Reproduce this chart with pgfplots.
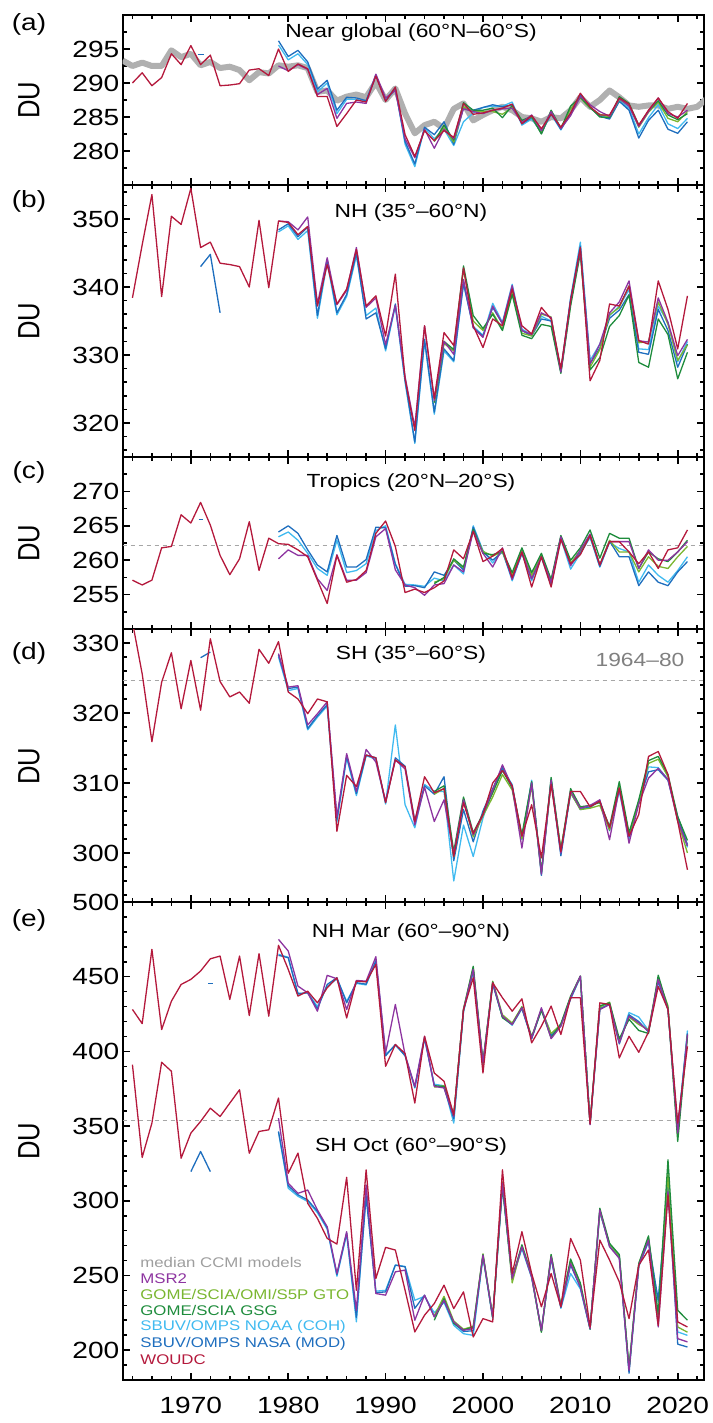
\documentclass[border=0pt]{standalone}
\usepackage{fontspec}
\setmainfont{Liberation Sans}[FakeStretch=1.2]
\newfontfamily\dufont{Liberation Sans}
\usepackage{graphicx}
\usepackage{pgfplots}
\usepackage{pgfplotstable}
\pgfplotsset{compat=1.18}

\definecolor{ccmi}{RGB}{176,176,176}
\definecolor{msr}{RGB}{141,52,160}
\definecolor{gto}{RGB}{122,182,48}
\definecolor{gsg}{RGB}{30,140,60}
\definecolor{noaa}{RGB}{64,186,240}
\definecolor{nasa}{RGB}{30,110,190}
\definecolor{woudc}{RGB}{180,25,60}

\newcommand\ticfont{\fontsize{11.7}{12}\selectfont}
\newcommand\titfont{\fontsize{9.5}{11}\selectfont}
\newcommand\legfont{\fontsize{7}{8}\selectfont}

\pgfplotsset{
  panel/.style={
    scale only axis, width=290.65pt, anchor=north west,
    xmin=1963, xmax=2022.7,
    xtick={1970,1980,...,2020}, minor xtick={1964,1966,...,2022},
    tick align=inside, tick pos=both,
    major tick length=3.7pt, minor tick length=2pt,
    tick style={black, line width=0.8pt},
    axis line style={line width=1pt},
    unbounded coords=jump,
    tick label style={font=\ticfont},
    yticklabel style={inner sep=1.5pt},
    /pgf/number format/assume math mode=true,
    /pgf/number format/1000 sep={},
  },
  ser/.style={line width=0.65pt, line join=round},
  ref/.style={gray!70, line width=0.4pt, dash pattern=on 2pt off 2pt},
}

% year, WOUDC, MSR2, GTO, GSG, NOAA (COH), NASA (MOD), CCMI median
\pgfplotstableread{
yr wo ms gto gsg noaa nasa cc
1963 nan nan nan nan nan nan 293.3
1964 290.0 nan nan nan nan nan 292.5
1965 291.5 nan nan nan nan nan 293.0
1966 289.6 nan nan nan nan nan 292.5
1967 290.8 nan nan nan nan nan 292.5
1968 294.3 nan nan nan nan nan 294.8
1969 292.7 nan nan nan nan nan 293.8
1970 295.5 nan nan nan nan nan 294.3
1971 292.7 nan nan nan nan nan 292.6
1972 294.1 nan nan nan nan nan 293.1
1973 289.6 nan nan nan nan nan 292.2
1974 289.7 nan nan nan nan nan 292.4
1975 289.9 nan nan nan nan nan 291.9
1976 291.9 nan nan nan nan nan 290.4
1977 292.1 nan nan nan nan nan 291.6
1978 291.1 nan nan nan nan nan 291.4
1979 295.0 292.5 nan nan 295.6 296.2 292.6
1980 291.7 291.8 nan nan 293.4 293.9 292.4
1981 292.8 292.7 nan nan 294.3 294.8 292.6
1982 292.1 292.0 nan nan 292.7 293.1 292.2
1983 288.0 288.3 nan nan 288.7 289.1 288.7
1984 288.0 289.2 nan nan 290.0 290.4 288.9
1985 283.6 284.8 nan nan 285.5 286.0 287.4
1986 285.5 287.0 nan nan 287.6 287.9 288.0
1987 287.5 287.2 nan nan 287.6 287.8 288.3
1988 287.2 287.0 nan nan 287.3 287.4 287.9
1989 291.0 291.3 nan nan 291.0 291.2 290.1
1990 287.3 287.8 nan nan 287.6 287.4 287.5
1991 289.4 288.9 nan nan 289.3 289.1 289.2
1992 282.4 281.8 nan nan 281.0 281.4 285.5
1993 279.2 279.0 nan nan 277.7 278.1 282.6
1994 283.0 283.2 nan nan 283.4 283.5 283.8
1995 281.5 280.4 281.6 281.4 281.8 282.4 284.3
1996 283.0 283.2 283.4 283.8 283.2 284.3 283.3
1997 282.0 281.8 281.3 281.6 280.8 281.0 286.2
1998 287.0 286.2 286.5 287.1 284.3 286.4 287.0
1999 285.4 285.8 285.8 286.0 285.6 286.0 284.5
2000 285.6 285.5 285.8 286.0 286.4 286.4 285.3
2001 286.0 286.0 285.8 286.3 286.6 286.8 286.0
2002 286.3 286.2 285.4 284.9 286.6 286.5 286.5
2003 286.9 286.3 286.4 286.7 287.2 286.8 286.0
2004 284.0 284.2 284.4 284.5 283.8 284.0 285.0
2005 285.2 285.3 285.0 285.1 284.7 284.9 284.8
2006 283.3 283.0 282.6 282.5 282.8 282.6 284.3
2007 285.4 285.8 285.9 286.0 285.4 285.5 285.0
2008 283.5 283.3 283.4 283.3 283.1 283.2 284.8
2009 285.6 285.2 286.2 286.6 285.6 285.5 286.0
2010 288.5 288.0 287.8 287.9 288.2 288.3 287.9
2011 286.5 286.8 286.3 286.4 286.3 286.4 286.5
2012 285.3 285.8 285.4 285.0 285.3 285.1 287.5
2013 285.3 285.1 285.0 284.9 284.8 284.7 288.9
2014 287.8 287.7 287.6 288.0 287.4 287.3 287.9
2015 286.9 286.6 286.7 287.0 286.3 286.0 286.7
2016 283.8 283.6 283.5 283.8 282.5 281.9 286.5
2017 286.0 285.8 285.7 285.9 284.9 284.5 286.7
2018 287.8 287.8 287.2 287.4 286.8 286.0 286.7
2019 285.8 285.5 284.8 285.3 284.0 283.2 286.2
2020 284.8 285.0 284.3 284.6 283.3 282.6 286.5
2021 287.0 286.0 285.8 285.5 284.8 284.3 286.2
2022 nan nan nan nan nan nan 286.5
2023 nan nan nan nan nan nan 287.7
}\tA

\pgfplotstableread{
yr wo ms gto gsg noaa nasa
1964 338.4 nan nan nan nan nan
1965 346.2 nan nan nan nan nan
1966 353.6 nan nan nan nan nan
1967 338.6 nan nan nan nan nan
1968 350.4 nan nan nan nan nan
1969 349.2 nan nan nan nan nan
1970 354.5 nan nan nan nan nan
1971 345.8 nan nan nan nan 343.0
1972 346.6 nan nan nan nan 344.8
1973 343.5 nan nan nan nan 336.2
1974 343.3 nan nan nan nan nan
1975 343.0 nan nan nan nan nan
1976 340.0 nan nan nan nan nan
1977 349.8 nan nan nan nan nan
1978 339.9 nan nan nan nan nan
1979 349.7 349.7 nan nan 348.1 348.4
1980 349.5 349.6 nan nan 349.0 349.3
1981 347.7 348.4 nan nan 347.0 347.4
1982 348.9 350.3 nan nan 348.3 348.8
1983 337.2 337.5 nan nan 335.4 335.8
1984 343.3 344.3 nan nan 343.6 344.1
1985 337.5 337.4 nan nan 335.9 336.2
1986 339.7 339.5 nan nan 338.6 338.9
1987 345.5 345.8 nan nan 344.6 345.0
1988 337.2 337.0 nan nan 335.8 335.3
1989 338.7 338.4 nan nan 336.9 336.2
1990 332.8 331.5 nan nan 330.6 330.9
1991 341.9 337.3 nan nan 337.2 337.5
1992 326.5 326.8 nan nan 326.0 326.3
1993 318.9 319.4 nan nan 317.0 317.2
1994 334.3 334.3 nan nan 332.0 332.3
1995 323.6 323.3 323.0 323.0 321.3 321.6
1996 333.3 332.0 331.7 332.0 330.6 330.9
1997 331.4 330.1 330.6 330.8 329.0 329.2
1998 342.8 341.1 342.6 343.1 340.4 340.6
1999 334.3 334.0 335.0 335.8 334.2 334.0
2000 331.1 332.6 333.6 333.9 332.9 332.8
2001 335.3 337.2 336.2 336.0 337.6 337.0
2002 334.3 334.6 333.8 333.6 334.8 334.6
2003 339.7 340.2 339.2 338.9 340.4 339.9
2004 334.3 333.6 333.2 332.9 333.8 333.6
2005 333.1 333.0 332.8 332.4 333.0 332.8
2006 337.0 336.2 336.0 334.5 335.7 335.3
2007 335.3 335.5 335.6 334.2 335.0 335.0
2008 328.0 327.5 327.6 327.3 327.7 327.5
2009 338.0 338.0 337.6 337.2 338.4 338.2
2010 345.8 345.5 345.2 345.0 346.6 346.0
2011 326.2 328.7 328.2 327.8 329.2 328.7
2012 329.2 331.6 330.8 329.6 331.6 331.0
2013 337.5 336.2 335.9 334.2 335.8 335.4
2014 337.2 337.8 337.0 335.8 337.2 336.6
2015 340.1 340.9 340.2 338.8 339.6 338.9
2016 332.1 332.1 331.8 328.9 330.9 330.4
2017 331.6 331.9 332.0 328.2 330.8 330.1
2018 340.9 338.4 337.8 335.3 337.2 336.7
2019 336.7 334.8 334.5 333.0 334.8 333.6
2020 330.9 329.9 329.2 326.5 329.0 328.2
2021 338.7 332.3 331.5 330.4 332.0 331.6
}\tB

\pgfplotstableread{
yr wo ms gto gsg noaa nasa
1964 257.1 nan nan nan nan nan
1965 256.4 nan nan nan nan nan
1966 257.1 nan nan nan nan nan
1967 261.8 nan nan nan nan nan
1968 262.0 nan nan nan nan nan
1969 266.6 nan nan nan nan nan
1970 265.4 nan nan nan nan nan
1971 268.4 nan nan nan nan nan
1972 265.1 nan nan nan nan nan
1973 260.7 nan nan nan nan nan
1974 257.9 nan nan nan nan nan
1975 260.2 nan nan nan nan nan
1976 265.6 nan nan nan nan nan
1977 258.5 nan nan nan nan nan
1978 263.2 nan nan nan nan nan
1979 262.4 260.2 nan nan 263.4 264.1
1980 262.3 261.5 nan nan 264.1 265.0
1981 261.5 260.7 nan nan 262.9 263.9
1982 260.5 260.7 nan nan 261.0 261.5
1983 257.1 257.3 nan nan 258.8 259.3
1984 253.7 255.6 nan nan 257.8 258.3
1985 260.7 260.8 nan nan 262.9 263.6
1986 256.8 257.1 nan nan 258.2 259.0
1987 257.2 257.1 nan nan 258.5 259.0
1988 258.5 258.2 nan nan 259.5 260.1
1989 263.9 263.4 nan nan 264.3 264.8
1990 265.7 264.6 nan nan 265.0 264.7
1991 262.0 258.6 nan nan 259.5 259.4
1992 255.3 256.4 nan nan 256.5 256.2
1993 255.8 256.0 nan nan 256.4 256.3
1994 255.3 254.9 nan nan 256.2 256.0
1995 256.0 256.4 256.8 256.6 257.4 258.3
1996 257.0 256.6 257.3 257.5 257.0 257.8
1997 261.5 259.3 260.0 260.2 259.3 260.0
1998 260.2 258.3 258.9 259.0 258.0 258.6
1999 264.2 264.2 264.3 264.5 265.0 264.8
2000 259.8 261.0 261.3 261.0 261.4 261.2
2001 260.6 259.0 260.6 260.8 259.6 260.0
2002 261.7 261.8 261.2 261.3 261.4 261.2
2003 257.5 257.2 257.8 258.2 257.0 257.3
2004 261.2 261.2 261.6 261.8 261.0 261.0
2005 256.1 257.3 257.8 258.2 257.0 257.3
2006 260.5 260.5 260.8 261.0 260.4 260.6
2007 256.1 256.8 257.0 257.2 256.3 256.7
2008 263.0 263.4 263.3 263.6 263.1 263.4
2009 259.5 259.2 259.6 260.0 258.7 259.3
2010 260.8 261.5 261.4 261.8 261.0 261.1
2011 263.6 263.8 263.6 264.4 263.3 263.5
2012 259.3 259.3 259.4 260.3 259.0 259.1
2013 262.7 262.7 262.9 263.9 262.6 262.8
2014 262.7 262.7 261.2 263.2 261.7 260.5
2015 261.2 262.7 261.2 263.2 261.2 260.5
2016 259.5 258.8 258.3 258.8 256.8 256.3
2017 261.2 261.5 260.5 261.2 259.3 258.3
2018 258.8 260.0 259.1 260.2 257.8 256.8
2019 261.5 260.0 258.8 259.8 256.8 256.3
2020 261.8 261.2 260.5 261.2 258.5 258.3
2021 264.4 262.7 262.0 262.9 260.5 259.8
}\tC

\pgfplotstableread{
yr wo ms gto gsg noaa nasa
1964 333.0 nan nan nan nan nan
1965 325.6 nan nan nan nan nan
1966 315.9 nan nan nan nan nan
1967 324.4 nan nan nan nan nan
1968 328.6 nan nan nan nan nan
1969 320.6 nan nan nan nan nan
1970 327.5 nan nan nan nan nan
1971 320.4 nan nan nan nan 327.9
1972 330.6 nan nan nan nan 328.7
1973 324.5 nan nan nan nan nan
1974 322.3 nan nan nan nan nan
1975 323.0 nan nan nan nan nan
1976 321.4 nan nan nan nan nan
1977 329.1 nan nan nan nan nan
1978 327.1 nan nan nan nan nan
1979 330.2 328.5 nan nan 328.0 328.3
1980 323.0 323.7 nan nan 323.2 323.5
1981 322.0 323.9 nan nan 323.5 323.7
1982 319.9 318.3 nan nan 317.6 317.8
1983 322.0 319.9 nan nan 319.4 319.6
1984 321.6 321.6 nan nan 321.0 321.2
1985 303.1 305.2 nan nan 304.4 304.8
1986 311.1 314.2 nan nan 313.6 313.8
1987 309.5 308.8 nan nan 308.2 308.5
1988 314.0 314.8 nan nan 313.9 314.0
1989 313.6 313.0 nan nan 313.4 313.6
1990 307.2 307.4 nan nan 307.0 307.2
1991 313.3 313.3 nan nan 318.3 313.6
1992 312.3 312.0 nan nan 306.9 312.4
1993 304.5 304.0 nan nan 303.6 304.6
1994 310.9 309.4 nan nan 309.8 309.6
1995 308.6 304.5 308.4 308.8 308.8 308.4
1996 309.2 307.6 309.2 309.6 308.8 310.9
1997 299.5 299.8 299.5 300.2 296.0 298.9
1998 307.2 307.6 307.6 308.0 304.0 306.2
1999 302.8 302.6 302.3 302.9 299.5 301.6
2000 305.5 305.5 305.3 305.6 305.0 306.0
2001 310.0 309.0 308.0 308.6 309.0 309.2
2002 311.8 312.6 311.2 311.8 311.9 312.2
2003 309.6 309.4 309.0 309.3 309.8 309.6
2004 302.4 300.7 302.0 302.6 301.9 302.2
2005 306.9 310.0 309.6 310.2 310.4 310.1
2006 299.3 297.0 297.2 297.3 297.0 296.8
2007 309.8 310.4 310.2 310.8 310.6 310.3
2008 300.2 300.0 300.6 300.4 300.0 299.6
2009 308.8 308.8 308.6 309.2 308.5 308.7
2010 308.8 306.4 306.2 306.6 306.4 306.2
2011 306.6 306.8 306.4 306.8 306.5 306.6
2012 307.4 307.6 306.8 307.2 307.5 307.4
2013 303.6 301.9 303.3 303.8 303.5 303.2
2014 309.3 309.2 309.5 310.2 308.8 309.6
2015 302.4 301.4 302.6 302.9 302.0 302.3
2016 305.5 307.0 307.2 307.6 307.4 307.3
2017 313.8 310.7 312.8 313.2 312.3 311.6
2018 314.5 312.1 313.4 313.8 312.2 311.9
2019 311.2 310.5 310.9 311.2 310.5 310.4
2020 304.5 304.6 304.6 305.2 305.0 305.2
2021 297.6 301.0 300.0 301.8 300.8 301.2
}\tD

\pgfplotstableread{
yr wo ms gto gsg noaa nasa
1964 428.1 nan nan nan nan nan
1965 418.6 nan nan nan nan nan
1966 468.3 nan nan nan nan nan
1967 414.6 nan nan nan nan nan
1968 433.6 nan nan nan nan nan
1969 444.8 nan nan nan nan nan
1970 448.2 nan nan nan nan nan
1971 453.8 nan nan nan nan nan
1972 462.0 nan nan nan nan nan
1973 463.8 nan nan nan nan nan
1974 434.8 nan nan nan nan nan
1975 463.8 nan nan nan nan nan
1976 424.0 nan nan nan nan nan
1977 465.4 nan nan nan nan nan
1978 423.6 nan nan nan nan nan
1979 471.0 475.0 nan nan 465.0 464.3
1980 454.9 467.2 nan nan 463.0 462.7
1981 437.0 443.7 nan nan 438.0 438.8
1982 440.3 439.2 nan nan 439.5 439.2
1983 432.5 426.9 nan nan 430.0 428.5
1984 442.6 450.9 nan nan 443.5 444.8
1985 449.3 448.6 nan nan 448.5 449.3
1986 422.4 428.0 nan nan 433.5 432.5
1987 447.1 447.5 nan nan 445.5 446.0
1988 446.5 447.0 nan nan 444.5 445.0
1989 458.2 463.4 nan nan 461.0 460.5
1990 390.0 399.0 nan nan 398.0 397.0
1991 404.6 431.4 nan nan 404.0 404.6
1992 398.6 397.8 nan nan 397.5 397.0
1993 365.4 376.6 nan nan 375.5 376.0
1994 410.1 410.1 nan nan 408.5 409.0
1995 385.5 376.6 376.0 377.0 378.0 377.0
1996 380.0 375.5 377.0 376.5 377.0 376.0
1997 357.5 356.5 357.5 357.0 352.0 355.0
1998 428.0 428.0 428.5 428.0 426.5 427.0
1999 449.3 454.9 456.0 457.0 453.5 454.0
2000 385.5 392.2 392.0 392.5 391.0 391.5
2001 445.9 445.9 447.0 446.5 445.0 445.5
2002 435.9 423.6 424.5 422.5 423.0 423.0
2003 426.9 418.0 419.0 418.0 417.5 418.5
2004 435.2 429.2 430.0 429.5 428.5 429.0
2005 405.7 409.0 410.0 409.5 408.5 408.5
2006 416.9 429.2 428.0 427.5 428.5 428.0
2007 430.3 408.5 412.0 409.0 411.5 410.5
2008 411.3 416.9 418.0 418.5 417.5 417.0
2009 435.9 435.9 436.5 437.0 435.0 435.5
2010 435.9 450.4 450.0 450.5 449.5 450.0
2011 351.5 350.9 352.0 351.5 352.5 351.5
2012 432.5 428.0 429.5 430.5 428.5 428.5
2013 431.4 431.4 433.0 432.5 432.0 431.5
2014 395.6 405.7 406.5 408.5 406.0 405.0
2015 410.1 423.6 423.0 421.5 426.0 424.5
2016 399.4 419.1 418.0 414.0 423.0 420.0
2017 413.0 413.5 414.5 412.0 414.0 413.0
2018 443.5 448.2 449.0 451.0 446.5 447.0
2019 428.0 428.0 430.5 429.0 428.5 428.5
2020 352.0 345.3 343.0 339.7 347.0 348.0
2021 403.4 411.3 411.0 410.0 414.0 412.0
}\tEN

\pgfplotstableread{
yr wo ms gto gsg noaa nasa
1964 391.1 nan nan nan nan nan
1965 329.0 nan nan nan nan nan
1966 352.0 nan nan nan nan nan
1967 392.7 nan nan nan nan nan
1968 386.7 nan nan nan nan nan
1969 328.5 nan nan nan nan nan
1970 345.3 nan nan nan nan 319.5
1971 353.1 nan nan nan nan 333.0
1972 362.0 nan nan nan nan 319.5
1973 356.4 nan nan nan nan nan
1974 365.4 nan nan nan nan nan
1975 374.3 nan nan nan nan nan
1976 331.8 nan nan nan nan nan
1977 346.4 nan nan nan nan nan
1978 347.5 nan nan nan nan nan
1979 368.8 355.3 nan nan 346.0 346.4
1980 318.4 311.7 nan nan 308.4 310.0
1981 331.9 305.0 nan nan 303.0 304.0
1982 298.3 307.2 nan nan 299.5 300.5
1983 288.2 293.8 nan nan 292.0 293.0
1984 274.8 282.6 nan nan 281.0 282.0
1985 271.0 251.3 nan nan 249.5 250.5
1986 315.7 279.3 nan nan 277.5 278.5
1987 240.1 226.7 nan nan 218.9 222.0
1988 320.7 310.6 nan nan 305.0 302.8
1989 248.0 237.9 nan nan 239.5 238.5
1990 268.8 236.8 nan nan 240.0 239.0
1991 267.0 252.4 nan nan 257.0 256.9
1992 240.1 253.6 nan nan 256.0 255.8
1993 212.2 220.0 nan nan 233.4 228.0
1994 223.4 236.8 nan nan 236.0 236.8
1995 231.2 222.2 223.0 220.0 225.0 222.5
1996 243.5 233.4 236.0 234.5 232.0 233.0
1997 227.8 218.9 219.5 218.0 216.6 218.0
1998 239.0 213.3 214.0 213.5 211.0 212.5
1999 208.8 214.4 216.0 215.5 209.9 213.0
2000 221.1 263.6 264.5 264.0 262.5 263.0
2001 218.9 222.2 222.5 222.0 221.0 222.0
2002 320.7 311.7 312.5 310.0 309.0 310.5
2003 251.3 248.0 245.0 248.5 247.0 248.0
2004 279.3 269.2 270.0 270.5 268.0 269.0
2005 251.3 249.1 249.5 250.5 248.5 249.0
2006 229.0 213.3 212.5 212.0 213.0 213.0
2007 251.3 262.5 263.5 264.0 261.5 262.0
2008 229.0 229.0 230.0 229.5 228.0 228.5
2009 274.8 258.0 260.0 261.0 251.3 257.0
2010 260.3 242.4 244.0 245.0 241.0 242.0
2011 215.5 214.4 215.0 214.0 214.0 214.5
2012 273.7 293.8 293.0 295.0 292.0 293.5
2013 260.3 269.2 271.0 271.5 271.0 269.5
2014 245.7 261.4 263.0 264.0 263.0 262.0
2015 221.1 186.4 188.0 187.5 187.0 184.5
2016 256.9 256.9 258.0 258.0 256.0 256.5
2017 267.0 273.7 275.0 276.5 272.5 273.0
2018 216.6 215.5 222.0 224.0 232.0 233.4
2019 303.9 306.0 318.0 327.4 310.0 311.0
2020 218.9 207.7 215.5 226.7 212.2 204.0
2021 215.5 205.5 212.0 220.0 209.9 202.1
}\tES

\newcommand\allseries[1]{%
  \addplot[ser, noaa] table[x=yr, y=noaa] {#1};
  \addplot[ser, nasa] table[x=yr, y=nasa] {#1};
  \addplot[ser, gto] table[x=yr, y=gto] {#1};
  \addplot[ser, gsg] table[x=yr, y=gsg] {#1};
  \addplot[ser, msr] table[x=yr, y=ms] {#1};
  \addplot[ser, woudc] table[x=yr, y=wo] {#1};
}

\begin{document}
\begin{tikzpicture}
\useasboundingbox (0,0) rectangle (356pt,-711.5pt);

% (a) near global
\begin{axis}[panel, at={(61.35pt,-7.5pt)}, height=85pt,
  ymin=275, ymax=300, ytick={280,285,290,295},
  minor ytick={277.5,282.5,...,297.5}, xticklabels={}]
  \addplot[ccmi, line width=3pt, line join=round] table[x=yr, y=cc] {\tA};
  \allseries{\tA}
  \addplot[ser, nasa] coordinates {(1970.7,294.2)(1971.3,294.2)};
\end{axis}

% (b) NH mid-latitudes
\begin{axis}[panel, at={(61.35pt,-92.5pt)}, height=136pt,
  ymin=315, ymax=355, ytick={320,330,340,350},
  minor ytick={316,318,...,354}, xticklabels={}]
  \allseries{\tB}
\end{axis}

% (c) tropics
\begin{axis}[panel, at={(61.35pt,-228.5pt)}, height=86pt,
  ymin=250, ymax=275, ytick={255,260,265,270},
  minor ytick={252.5,257.5,...,272.5}, xticklabels={}]
  \addplot[ref] coordinates {(1963,262.1)(2023,262.1)};
  \allseries{\tC}
  \addplot[ser, nasa] coordinates {(1970.8,265.9)(1971.2,265.9)};
\end{axis}

% (d) SH mid-latitudes
\begin{axis}[panel, at={(61.35pt,-314.5pt)}, height=136.5pt,
  ymin=293, ymax=332, ytick={300,310,320,330},
  minor ytick={294,296,...,332}, xticklabels={}]
  \addplot[ref] coordinates {(1963,324.7)(2023,324.7)};
  \allseries{\tD}
\end{axis}

% (e) polar
\begin{axis}[panel, at={(61.35pt,-451pt)}, height=239pt,
  ymin=180, ymax=500, ytick={200,250,...,500},
  minor ytick={190,200,...,490},
  xticklabel style={inner sep=0pt, yshift=-8.5pt}]
  \addplot[ref] coordinates {(1963,354)(2023,354)};
  \allseries{\tEN}
  \allseries{\tES}
  \addplot[ser, nasa] coordinates {(1971.8,445.3)(1972.3,445.3)};
\end{axis}

% panel letters
\foreach \lab/\yy in {a/-12, b/-100.5, c/-236.3, d/-326.8, e/-460}
  \node[font=\ticfont] at (14.5pt,\yy pt) {(\lab)};
% DU labels
\foreach \yy in {-50, -160.5, -271.5, -383, -570.5}
  \node[rotate=90, font=\dufont\fontsize{12.8}{14}\selectfont] at (14.5pt,\yy pt) {\scalebox{1}[1.2]{DU}};

% titles
\node[font=\titfont] at (205.5pt,-16.5pt) {Near global (60°N–60°S)};
\node[font=\titfont] at (205.5pt,-106.5pt) {NH (35°–60°N)};
\node[font=\titfont] at (205.5pt,-241.5pt) {Tropics (20°N–20°S)};
\node[font=\titfont] at (205.5pt,-327.5pt) {SH (35°–60°S)};
\node[font=\titfont, text=gray] at (320pt,-330pt) {1964–80};
\node[font=\titfont] at (205.5pt,-466.5pt) {NH Mar (60°–90°N)};
\node[font=\titfont] at (205.5pt,-573.5pt) {SH Oct (60°–90°S)};

% legend
\node[font=\legfont, text=ccmi!90!black, anchor=west, inner sep=0pt] at (70pt,-631pt) {median CCMI models};
\node[font=\legfont, text=msr, anchor=west, inner sep=0pt] at (70pt,-639.15pt) {MSR2};
\node[font=\legfont, text=gto, anchor=west, inner sep=0pt] at (70pt,-647.3pt) {GOME/SCIA/OMI/S5P GTO};
\node[font=\legfont, text=gsg, anchor=west, inner sep=0pt] at (70pt,-655.45pt) {GOME/SCIA GSG};
\node[font=\legfont, text=noaa, anchor=west, inner sep=0pt] at (70pt,-663.6pt) {SBUV/OMPS NOAA (COH)};
\node[font=\legfont, text=nasa, anchor=west, inner sep=0pt] at (70pt,-671.75pt) {SBUV/OMPS NASA (MOD)};
\node[font=\legfont, text=woudc, anchor=west, inner sep=0pt] at (70pt,-679.9pt) {WOUDC};
\end{tikzpicture}
\end{document}
